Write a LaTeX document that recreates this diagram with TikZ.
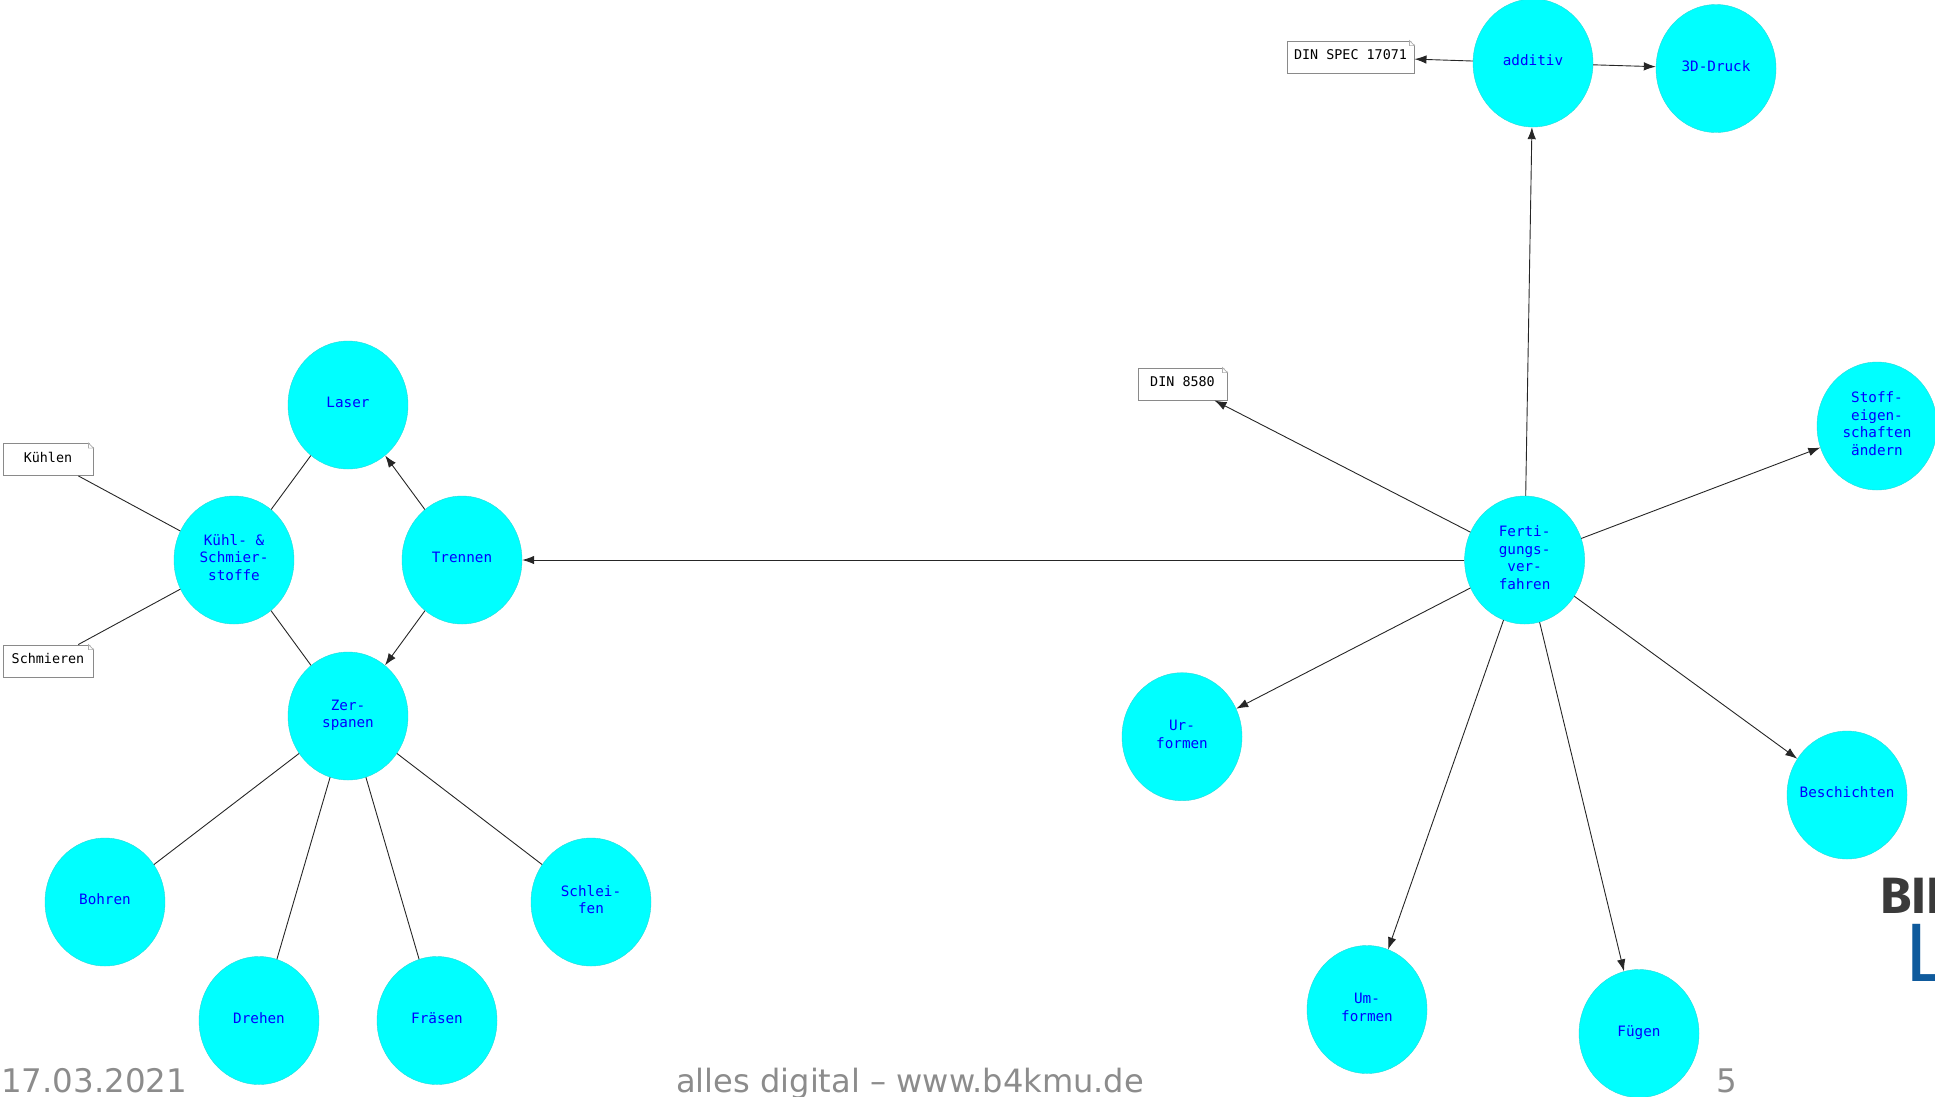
\documentclass[tikz,border=0pt]{standalone}
\usepackage{fontspec}
\setmainfont{DejaVu Sans}
\setmonofont{DejaVu Sans Mono}
\newfontfamily\logofont{Fira Sans}
\usetikzlibrary{arrows.meta,shapes.geometric,calc}
\definecolor{topiccyan}{HTML}{00FFFF}
\definecolor{footgray}{HTML}{8C8C8C}
\definecolor{notegray}{HTML}{8A8A8A}
\definecolor{logoblue}{HTML}{0F5A9C}
\definecolor{logodark}{HTML}{3A3A3A}
\newcommand{\tp}[1]{\raisebox{0.6pt}[\height][\depth]{\begin{tabular}{@{}c@{}}#1\end{tabular}}}
\tikzset{
  topic/.style={ellipse,fill=topiccyan,draw=topiccyan!70!gray,line width=0.4pt,inner sep=-14pt,
    minimum width=120pt,minimum height=128pt,text=blue,
    font=\fontsize{14.3}{17.7}\selectfont\ttfamily},
  notebox/.style={rectangle,draw=notegray,fill=white,line width=0.9pt,inner sep=0pt,
    minimum height=32pt,text=black,
    font=\fontsize{13.4}{16}\selectfont\ttfamily},
  foldmark/.style={draw=notegray!70,fill=white,line width=0.6pt},
  link/.style={draw=black!85,line width=0.9pt},
  arrowlink/.style={link,-{Latex[length=12pt,width=8.5pt]}},
  foot/.style={anchor=base west,inner sep=0pt,text=footgray,font=\fontsize{32.5}{34}\selectfont},
}
\newcommand{\foldat}[1]{%
  \fill[white] ($(#1.north east)+(-5,-1)$) -- ($(#1.north east)+(1,-1)$) -- ($(#1.north east)+(1,5)$) -- cycle;
  \draw[foldmark] ($(#1.north east)+(-5,0)$) -- ($(#1.north east)+(0,5)$) -- ($(#1.north east)+(-5,5)$) -- cycle;
}
\begin{document}
\begin{tikzpicture}[x=1pt,y=-1pt]
\useasboundingbox (0,0) rectangle (1935,1096);
% topics
\node[topic] (laser) at (348,405) {\tp{Laser}};
\node[topic] (kuehl) at (234,560) {\tp{Kühl- \&\\Schmier-\\stoffe}};
\node[topic] (trennen) at (462,560) {\tp{Trennen}};
\node[topic] (zer) at (348,716) {\tp{Zer-\\spanen}};
\node[topic] (bohren) at (105,902) {\tp{Bohren}};
\node[topic] (drehen) at (259,1020.5) {\tp{Drehen}};
\node[topic] (fraesen) at (437,1020.5) {\tp{Fräsen}};
\node[topic] (schleifen) at (591,902) {\tp{Schlei-\\fen}};
\node[topic] (ferti) at (1524.6,560) {\tp{Ferti-\\gungs-\\ver-\\fahren}};
\node[topic] (additiv) at (1533,63) {\tp{additiv}};
\node[topic] (druck) at (1716,68.5) {\tp{3D-Druck}};
\node[topic] (stoff) at (1877,426) {\tp{Stoff-\\eigen-\\schaften\\ändern}};
\node[topic] (beschichten) at (1847,795) {\tp{Beschichten}};
\node[topic] (fuegen) at (1639,1033.5) {\tp{Fügen}};
\node[topic] (umformen) at (1367,1009.5) {\tp{Um-\\formen}};
\node[topic] (urformen) at (1182,736.7) {\tp{Ur-\\formen}};
% notes
\node[notebox,minimum width=127pt] (dinspec) at (1350.5,57) {\tp{DIN SPEC 17071}};
\node[notebox,minimum width=89pt] (din) at (1182.5,384) {\tp{DIN 8580}};
\node[notebox,minimum width=90pt] (kuehlen) at (48,459.5) {\tp{Kühlen}};
\node[notebox,minimum width=90pt] (schmieren) at (48,661) {\tp{Schmieren}};
\foreach \n in {dinspec,din,kuehlen,schmieren}{\foldat{\n}}
% connectors
\draw[arrowlink] (ferti) -- (trennen);
\draw[arrowlink] (ferti) -- (additiv);
\draw[arrowlink] (ferti) -- (din);
\draw[arrowlink] (ferti) -- (stoff);
\draw[arrowlink] (ferti) -- (beschichten);
\draw[arrowlink] (ferti) -- (fuegen);
\draw[arrowlink] (ferti) -- (umformen);
\draw[arrowlink] (ferti) -- (urformen);
\draw[arrowlink] (additiv) -- (dinspec);
\draw[arrowlink] (additiv) -- (druck);
\draw[arrowlink] (trennen) -- (laser);
\draw[arrowlink] (trennen) -- (zer);
\draw[link] (kuehl) -- (laser);
\draw[link] (kuehl) -- (zer);
\draw[link] (kuehl) -- (kuehlen);
\draw[link] (kuehl) -- (schmieren);
\draw[link] (zer) -- (bohren);
\draw[link] (zer) -- (drehen);
\draw[link] (zer) -- (fraesen);
\draw[link] (zer) -- (schleifen);
% logo fragment
\begin{scope}
\clip (1860,860) rectangle (1935,1000);
\node[anchor=base west,inner sep=0pt,text=logodark,font=\fontsize{51}{51}\selectfont\logofont\bfseries] (logotop) at (1880,913) {BIL};
\node[anchor=base west,inner sep=0pt,text=logoblue,font=\fontsize{83}{83}\selectfont\logofont] (logobot) at (1904,981) {L};
\end{scope}
% footer
\node[foot] (date) at (1,1092) {17.03.2021};
\node[foot,font=\fontsize{32.1}{34}\selectfont] (title) at (676,1092) {alles digital – www.b4kmu.de};
\node[foot] (page) at (1716,1092) {5};
\end{tikzpicture}
\end{document}
